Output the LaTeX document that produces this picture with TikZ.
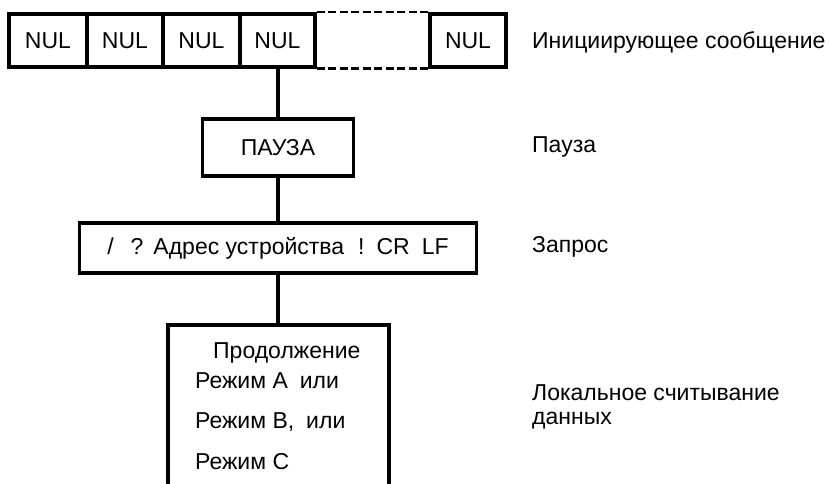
\documentclass[tikz,border=0pt]{standalone}
\usepackage{fontspec}
\setmainfont{Liberation Sans}
\begin{document}
\begin{tikzpicture}[x=1pt,y=-1pt,
  box/.style={draw, line width=3.5pt, inner sep=0pt, font=\fontsize{23}{24}\selectfont},
  nulbox/.style={box, minimum height=53pt},
  lbl/.style={anchor=west, inner sep=0pt, font=\fontsize{23}{24}\selectfont},
  txt/.style={anchor=west, inner sep=0pt, font=\fontsize{23}{24}\selectfont},
  conn/.style={line width=3.2pt},
  dash line/.style={line width=2.5pt, dash pattern=on 8pt off 3.5pt}]
\useasboundingbox (0,0) rectangle (829,484);
\node[nulbox, minimum width=78pt] (n1) at (48,40.5) {NUL};
\node[nulbox, minimum width=76pt] (n2) at (125,40.5) {NUL};
\node[nulbox, minimum width=77pt] (n3) at (201.5,40.5) {NUL};
\node[nulbox, minimum width=75pt] (n4) at (277.5,40.5) {NUL};
\node[nulbox, minimum width=76pt] (n5) at (468,40.5) {NUL};
\draw[dash line] (n4.north east) -- (n5.north west);
\draw[dash line] (n4.south east) -- (n5.south west);
\node[box, minimum width=151pt, minimum height=57pt] (pause) at (278,147.5) {ПАУЗА};
\node[box, minimum width=397pt, minimum height=50pt] (query) at (278,248)
  {/\hspace{17pt}?\hspace{10pt}Адрес устройства\hspace{14pt}!\hspace{12pt}CR\hspace{12pt}LF};
\node[draw, line width=3.5pt, inner sep=0pt, minimum width=221pt, minimum height=220pt] (data) at (278.5,435) {};
\node[txt] (t1) at (213,353) {Продолжение};
\node[txt] (t2) at (195,381) {Режим А\hspace{12pt}или};
\node[txt] (t3) at (195,422) {Режим В,\hspace{12pt}или};
\node[txt] (t4) at (195,462) {Режим С};
\draw[conn] (pause.north |- n4.south) -- (pause.north);
\draw[conn] (pause.south) -- (pause.south |- query.north);
\draw[conn] (pause.south |- query.south) -- (pause.south |- data.north);
\node[lbl] (l1) at (532,42) {Инициирующее сообщение};
\node[lbl] (l2) at (532,147) {Пауза};
\node[lbl] (l3) at (532,247) {Запрос};
\node[lbl, align=left] (l4) at (532,407) {Локальное считывание\\данных};
\end{tikzpicture}
\end{document}
